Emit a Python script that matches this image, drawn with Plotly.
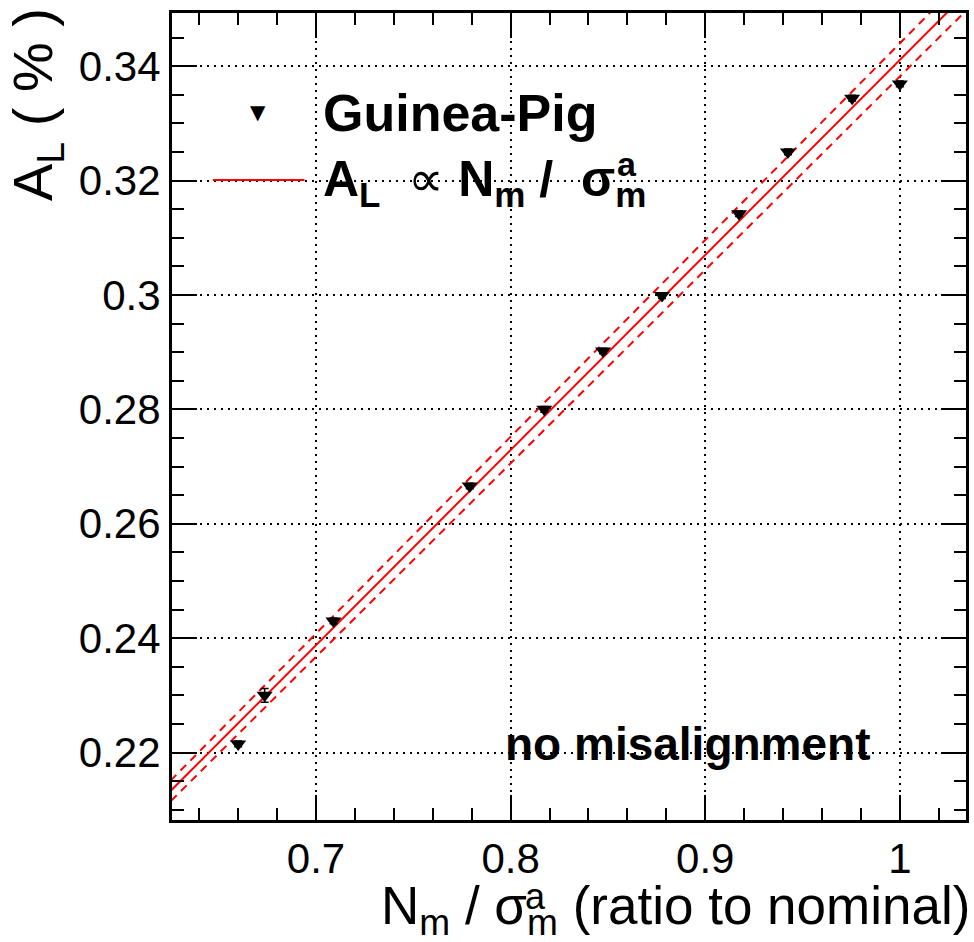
import numpy as np
import plotly.graph_objects as go

# ---- data ----
ratio = [0.660, 0.6736, 0.709, 0.779, 0.8173, 0.8475, 0.8778, 0.9174, 0.9425, 0.9755, 1.0]
asym = [0.2215, 0.2300, 0.2430, 0.2666, 0.2800, 0.2902, 0.2999, 0.3142, 0.3250, 0.3344, 0.3369]
asym_err = [0.0005, 0.0012, 0.0005, 0.0005, 0.0005, 0.0005, 0.0005, 0.0005, 0.0005, 0.0005, 0.0005]
fit_slope = 0.3411
fit_slope_err = 0.0029
fit_x = [0.60, 1.10]

x_ticks = [0.7, 0.8, 0.9, 1.0]
x_ticklabels = ["0.7", "0.8", "0.9", "1"]
y_ticks = [0.22, 0.24, 0.26, 0.28, 0.30, 0.32, 0.34]
y_ticklabels = ["0.22", "0.24", "0.26", "0.28", "0.3", "0.32", "0.34"]

FONT = "Liberation Sans, Arial, Helvetica, sans-serif"

W, H = 974, 942
L, R, T, B = 172, 5, 13, 122
pw, ph = W - L - R, H - T - B


def px(xp):
    return (xp - L) / pw


def py(yp):
    return (H - B - yp) / ph


fx = np.array(fit_x)
fig = go.Figure()

fig.add_trace(go.Scatter(x=fx, y=fit_slope * fx, mode="lines",
                         line=dict(color="#ff0000", width=2), showlegend=False))
fig.add_trace(go.Scatter(x=fx, y=(fit_slope + fit_slope_err) * fx, mode="lines",
                         line=dict(color="#ff0000", width=2, dash="8px,6px"), showlegend=False))
fig.add_trace(go.Scatter(x=fx, y=(fit_slope - fit_slope_err) * fx, mode="lines",
                         line=dict(color="#ff0000", width=2, dash="8px,6px"), showlegend=False))
fig.add_trace(go.Scatter(x=ratio, y=asym, mode="markers",
                         marker=dict(symbol="triangle-down", size=14, color="black"),
                         error_y=dict(type="data", array=asym_err, color="black", thickness=1.5, width=4),
                         showlegend=False))

axis_common = dict(
    showline=True, linecolor="black", linewidth=3, mirror="ticks",
    ticks="inside", ticklen=25, tickwidth=1.5, tickcolor="black",
    showgrid=True, gridcolor="black", gridwidth=1.5, griddash="2px,5px",
    zeroline=False,
    tickfont=dict(family=FONT, size=42, color="black"),
)

fig.update_xaxes(range=[0.626, 1.034], tickvals=x_ticks, ticktext=x_ticklabels,
                 minor=dict(dtick=0.02, ticklen=12, ticks="inside", tickwidth=1.5, tickcolor="black",
                            showgrid=False, tick0=0.0),
                 **axis_common)
fig.update_yaxes(range=[0.2082, 0.3493], tickvals=y_ticks, ticktext=y_ticklabels,
                 minor=dict(dtick=0.005, ticklen=12, ticks="inside", tickwidth=1.5, tickcolor="black",
                            showgrid=False, tick0=0.0),
                 **axis_common)

# legend box (white, hides grid)
fig.add_shape(type="rect", xref="paper", yref="paper", x0=0.0, x1=px(725), y0=py(212), y1=py(80),
              fillcolor="white", line=dict(width=0), layer="between")
fig.add_shape(type="line", xref="paper", yref="paper", x0=px(213), x1=px(305), y0=py(180), y1=py(180),
              line=dict(color="#ff0000", width=2))

annotations = [
    dict(text="▼", x=px(258), y=py(112), font=dict(size=20, color="black", family="DejaVu Sans")),
    dict(text="<b>Guinea-Pig</b>", x=px(322), y=py(113), xanchor="left",
         font=dict(size=52, color="black", family=FONT)),
    dict(text="<b>A<sub>L</sub></b>  ∝ <b>N<sub>m</sub> /  σ<sub>m</sub></b>", x=px(322), y=py(183), xanchor="left",
         font=dict(size=50, color="black", family=FONT)),
    dict(text="<b>a</b>", x=px(629), y=py(164), font=dict(size=34, color="black", family=FONT)),
    dict(text="<b>no misalignment</b>", x=px(689), y=py(744),
         font=dict(size=46, color="black", family=FONT)),
    dict(text="N<sub>m</sub> / σ<sub>m</sub> (ratio to nominal)", x=px(975), y=py(910), xanchor="right",
         font=dict(size=53, color="black", family=FONT)),
    dict(text="a", x=px(537), y=py(896), font=dict(size=36, color="black", family=FONT)),
    dict(text="A<sub>L</sub> ( % )", x=px(36), y=py(6), yanchor="top", textangle=-90,
         font=dict(size=56, color="black", family=FONT)),
]
for a in annotations:
    a.setdefault("xref", "paper")
    a.setdefault("yref", "paper")
    a.setdefault("showarrow", False)
    a.setdefault("xanchor", "center")
    a.setdefault("yanchor", "middle")
    fig.add_annotation(**a)

fig.update_layout(width=W, height=H, margin=dict(l=L, r=R, t=T, b=B),
                  paper_bgcolor="white", plot_bgcolor="white", showlegend=False)

fig.write_html("out.html")
